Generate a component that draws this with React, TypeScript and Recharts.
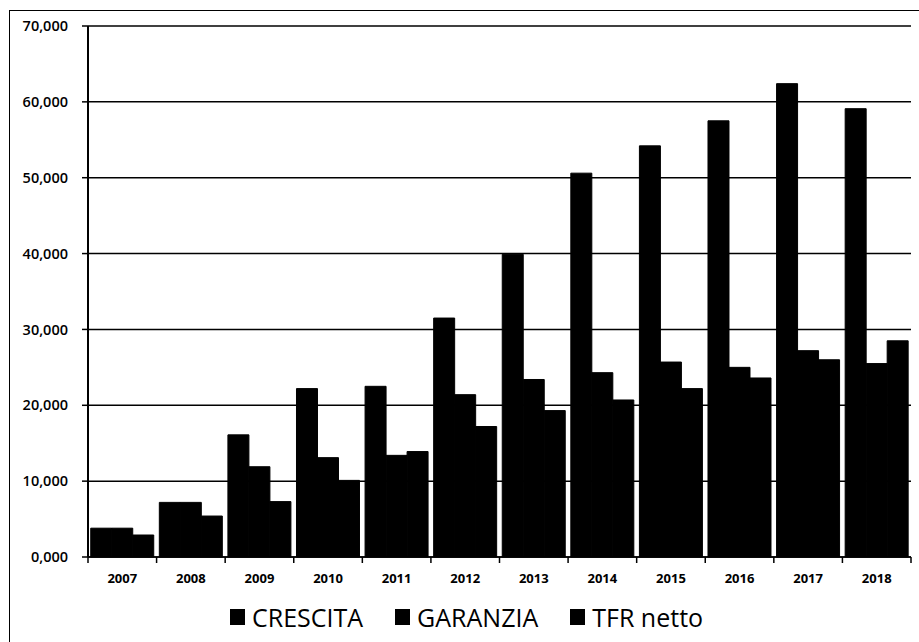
import React from "react";
import { BarChart, Bar, XAxis, YAxis, CartesianGrid } from "recharts";

const years = ["2007", "2008", "2009", "2010", "2011", "2012", "2013", "2014", "2015", "2016", "2017", "2018"];
const crescita = [3800, 7200, 16100, 22200, 22500, 31500, 39900, 50600, 54200, 57500, 62400, 59100];
const garanzia = [3800, 7200, 11900, 13100, 13400, 21400, 23400, 24300, 25700, 25000, 27200, 25500];
const tfrNetto = [2900, 5400, 7300, 10100, 13900, 17200, 19300, 20700, 22200, 23600, 26000, 28500];
const yTicks = [0, 10000, 20000, 30000, 40000, 50000, 60000, 70000];
const yTickLabels = ["0,000", "10,000", "20,000", "30,000", "40,000", "50,000", "60,000", "70,000"];
const seriesNames = ["CRESCITA", "GARANZIA", "TFR netto"];

const W = 919;
const H = 642;
const PLOT_LEFT = 88;
const PLOT_RIGHT = 911;
const BAND = (PLOT_RIGHT - PLOT_LEFT) / years.length;

const data = years.map((year, i) => ({
  year,
  [seriesNames[0]]: crescita[i],
  [seriesNames[1]]: garanzia[i],
  [seriesNames[2]]: tfrNetto[i],
}));

function YearTick(props: any) {
  const { x, y, payload, index } = props;
  const left = x - BAND / 2;
  const right = x + BAND / 2;
  return (
    <g>
      <line x1={left} y1={y} x2={left} y2={y + 6} stroke="#000" strokeWidth={1.5} />
      {index === years.length - 1 && (
        <line x1={right} y1={y} x2={right} y2={y + 6} stroke="#000" strokeWidth={1.5} />
      )}
      <text
        x={x}
        y={y + 21}
        textAnchor="middle"
        dominantBaseline="central"
        fontFamily="'Open Sans', sans-serif"
        fontWeight={700}
        fontSize={13}
        fill="#000"
      >
        {payload.value}
      </text>
    </g>
  );
}

export default function App() {
  return (
    <div style={{ position: "absolute", left: 0, top: 0, width: W, height: H, background: "#fff" }}>
      <div
        style={{
          position: "absolute",
          left: 9,
          top: 10,
          width: W - 9,
          height: H - 10,
          borderTop: "1.5px solid #000",
          borderLeft: "1.5px solid #000",
        }}
      />
      <div style={{ position: "absolute", left: 0, top: 0 }}>
        <BarChart
          width={W}
          height={H}
          data={data}
          margin={{ top: 26, right: W - PLOT_RIGHT, bottom: 55, left: 0 }}
          barCategoryGap="4%"
          barGap={0}
        >
          <CartesianGrid vertical={false} stroke="#000" strokeWidth={1.5} />
          <XAxis
            dataKey="year"
            height={30}
            interval={0}
            tickSize={0}
            tickMargin={0}
            axisLine={{ stroke: "#000", strokeWidth: 1.5 }}
            tickLine={false}
            tick={<YearTick />}
          />
          <YAxis
            width={PLOT_LEFT}
            domain={[0, 70000]}
            ticks={yTicks}
            interval={0}
            tickSize={6}
            tickMargin={14}
            tickFormatter={(v: number) => yTickLabels[yTicks.indexOf(v)]}
            axisLine={{ stroke: "#000", strokeWidth: 2 }}
            tickLine={{ stroke: "#000", strokeWidth: 1.5 }}
            tick={{ fill: "#000", fontSize: 14.5, fontWeight: 600, fontFamily: "'Open Sans', sans-serif" }}
          />
          {seriesNames.map((name) => (
            <Bar key={name} dataKey={name} fill="#000" stroke="#000" strokeWidth={1} isAnimationActive={false} />
          ))}
        </BarChart>
      </div>
      <div
        style={{
          position: "absolute",
          left: 230,
          top: 602,
          display: "flex",
          alignItems: "center",
          fontFamily: "'Open Sans', sans-serif",
          fontSize: 25,
          lineHeight: "30px",
          color: "#000",
          whiteSpace: "nowrap",
        }}
      >
        {seriesNames.map((name) => (
          <div key={name} style={{ display: "flex", alignItems: "center", marginRight: 32 }}>
            <span style={{ display: "inline-block", width: 15, height: 16, background: "#000", marginRight: 7 }} />
            <span>{name}</span>
          </div>
        ))}
      </div>
    </div>
  );
}
